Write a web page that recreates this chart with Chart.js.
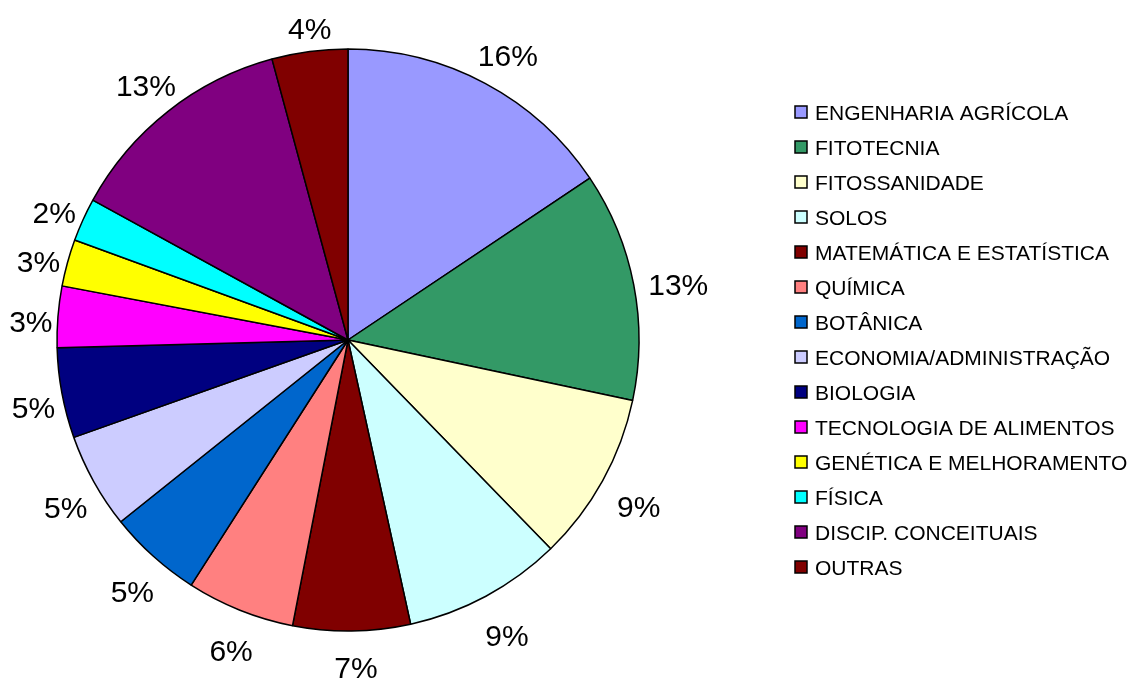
<!DOCTYPE html>
<html>
<head>
<meta charset="utf-8">
<title>Disciplinas</title>
<script src="https://cdn.jsdelivr.net/npm/chart.js@4.4.1/dist/chart.umd.min.js"></script>
<style>
  html, body { margin: 0; padding: 0; background: #fff; }
  #wrap { width: 1135px; height: 680px; }
</style>
</head>
<body>
<div id="wrap"><canvas id="chart" width="1135" height="680"></canvas></div>
<script>
// Áreas, na ordem das fatias (sentido horário a partir do topo)
const categories = [
  'ENGENHARIA AGRÍCOLA',
  'FITOTECNIA',
  'FITOSSANIDADE',
  'SOLOS',
  'MATEMÁTICA E ESTATÍSTICA',
  'QUÍMICA',
  'BOTÂNICA',
  'ECONOMIA/ADMINISTRAÇÃO',
  'BIOLOGIA',
  'TECNOLOGIA DE ALIMENTOS',
  'GENÉTICA E MELHORAMENTO',
  'FÍSICA',
  'DISCIP. CONCEITUAIS',
  'OUTRAS',
];

// Participação estimada de cada área (%)
const shares = [15.6, 12.7, 9.4, 8.8, 6.5, 6.0, 5.2, 5.3, 5.0, 3.4, 2.6, 2.4, 12.8, 4.2];

const sliceColors = [
  '#9999FF', '#339966', '#FFFFCC', '#CCFFFF', '#800000', '#FF8080', '#0066CC',
  '#CCCCFF', '#000080', '#FF00FF', '#FFFF00', '#00FFFF', '#800080', '#800000',
];

const FONT = '"Liberation Sans", Arial, sans-serif';

// Rótulos de porcentagem fora da pizza
const percentLabels = {
  id: 'percentLabels',
  afterDatasetsDraw(chart) {
    const { ctx } = chart;
    const meta = chart.getDatasetMeta(0);
    const values = chart.data.datasets[0].data;
    const total = values.reduce((a, b) => a + b, 0);
    ctx.save();
    ctx.font = `30px ${FONT}`;
    ctx.fillStyle = '#000';
    ctx.textAlign = 'center';
    ctx.textBaseline = 'middle';
    meta.data.forEach((arc, i) => {
      const p = arc.getProps(['x', 'y', 'startAngle', 'endAngle', 'outerRadius'], true);
      const mid = (p.startAngle + p.endAngle) / 2;
      const text = `${Math.round((values[i] / total) * 100)}%`;
      const w = ctx.measureText(text).width;
      const c = Math.cos(mid);
      const s = Math.sin(mid);
      // distância até a caixa do texto, como no Excel
      const d = p.outerRadius + 8 + 0.5 * (w * Math.abs(c) + 40 * Math.abs(s));
      ctx.fillText(text, p.x + d * c + 4, p.y + d * s + 10);
    });
    ctx.restore();
  },
};

// Legenda à direita, desenhada à mão para casar com o original
const sideLegend = {
  id: 'sideLegend',
  afterDraw(chart) {
    const { ctx } = chart;
    const labels = chart.data.labels;
    const colors = chart.data.datasets[0].backgroundColor;
    const boxX = 795;
    const textX = 815;
    const firstRow = 112;
    const rowStep = 35;
    ctx.save();
    ctx.font = `21px ${FONT}`;
    ctx.textAlign = 'left';
    ctx.textBaseline = 'alphabetic';
    labels.forEach((label, i) => {
      const cy = firstRow + i * rowStep;
      ctx.fillStyle = colors[i];
      ctx.fillRect(boxX, cy - 6, 12, 12);
      ctx.lineWidth = 1.5;
      ctx.strokeStyle = '#000';
      ctx.strokeRect(boxX, cy - 6, 12, 12);
      ctx.fillStyle = '#000';
      ctx.fillText(label, textX, cy + 7.5);
    });
    ctx.restore();
  },
};

// eslint-disable-next-line no-undef
new Chart(document.getElementById('chart'), {
  type: 'pie',
  data: {
    labels: categories,
    datasets: [
      {
        data: shares,
        backgroundColor: sliceColors,
        borderColor: '#000',
        borderWidth: 1.5,
      },
    ],
  },
  options: {
    responsive: false,
    animation: false,
    layout: { padding: { left: 56.25, top: 48.25, right: 495.25, bottom: 48.25 } },
    plugins: {
      legend: { display: false },
      tooltip: { enabled: false },
    },
  },
  plugins: [percentLabels, sideLegend],
});
</script>
</body>
</html>
